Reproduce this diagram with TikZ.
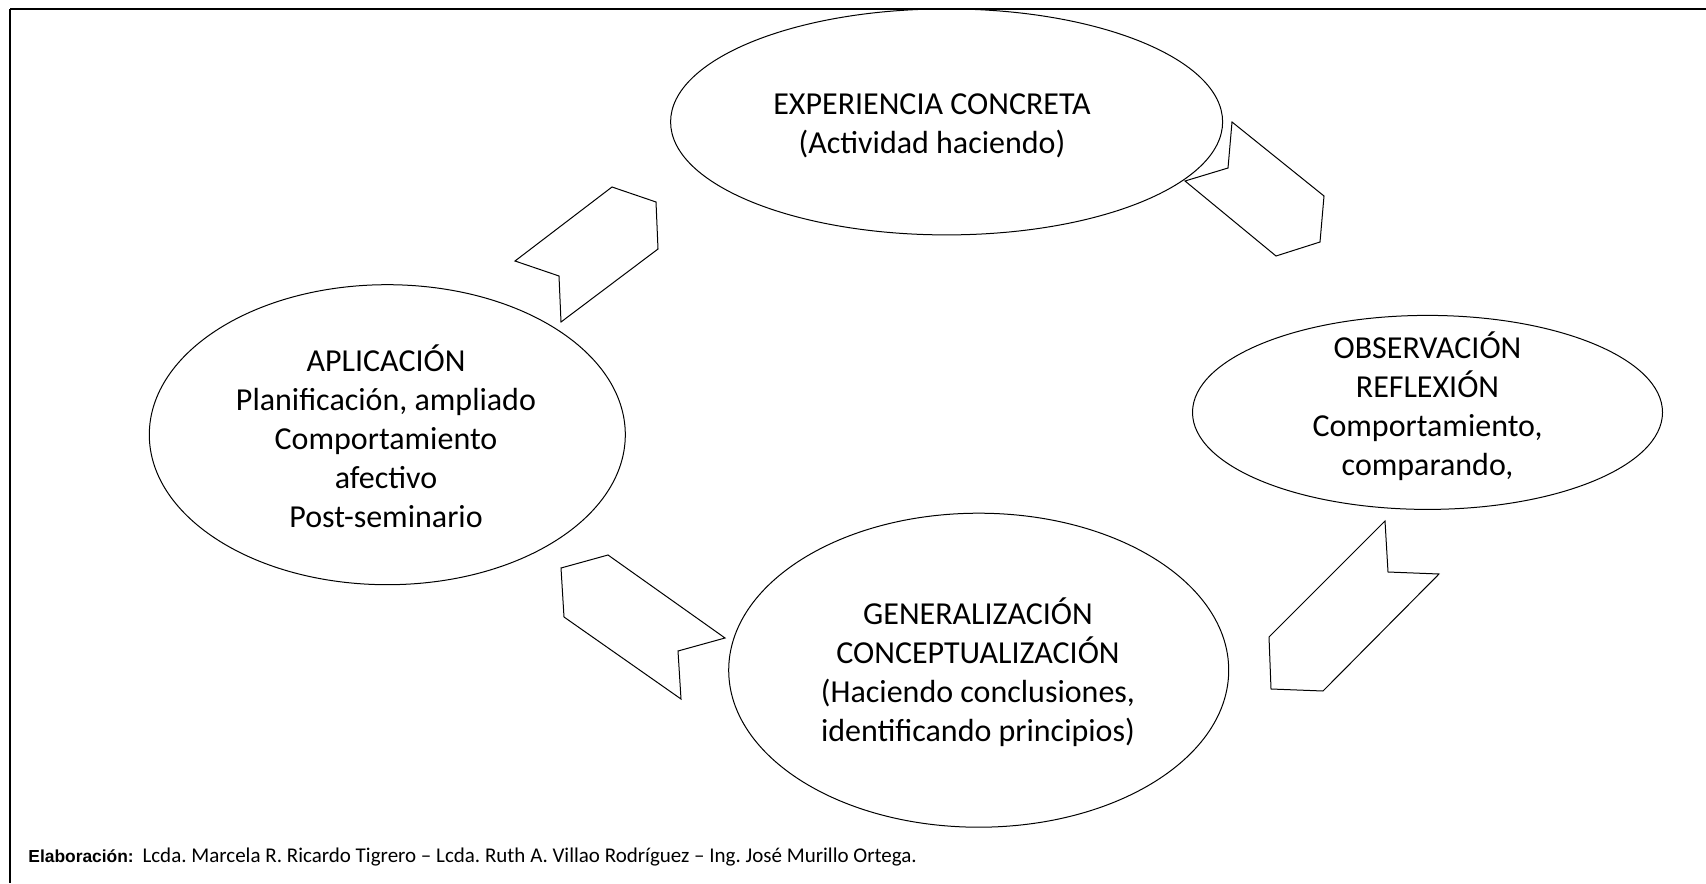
\documentclass[tikz,border=0pt]{standalone}
\usepackage{fontspec}
\setmainfont{Carlito}
\newfontfamily\arialfont{Liberation Sans}
\usetikzlibrary{shapes.geometric}
\tikzset{
  oval/.style={draw=black, line width=0.5pt, ellipse, inner sep=0pt, outer sep=0pt},
  ovaltext/.style={align=center, font=\fontsize{16}{19.5}\selectfont, inner sep=0pt},
  chev/.style={draw=black, fill=white, line width=0.5pt, line join=miter},
  frameline/.style={draw=black}
}
\frenchspacing
\begin{document}
\begin{tikzpicture}[x=0.5pt,y=-0.5pt]
\useasboundingbox (0,0) rectangle (1706,883);
% frame
\coordinate (tl) at (10,9);
\coordinate (tr) at (1706,9);
\coordinate (bl) at (10,883);
\draw[frameline, line width=1pt] (tl) -- (tr);
\draw[frameline, line width=0.7pt] (tl) -- (bl);
% ellipses
\node[oval, minimum width=276pt, minimum height=113pt] (exp) at (946.6,121.9) {};
\node[oval, minimum width=238pt, minimum height=150pt] (apl) at (387.3,434.7) {};
\node[oval, minimum width=235pt, minimum height=97pt] (obs) at (1427.5,412.4) {};
\node[oval, minimum width=250pt, minimum height=157pt] (gen) at (978.7,670.2) {};
% texts
\node[ovaltext] (expt) at (932,126) {EXPERIENCIA CONCRETA\\(Actividad haciendo)};
\node[ovaltext] (aplt) at (386,436) {APLICACIÓN\\Planificación, ampliado\\Comportamiento\\afectivo\\Post-seminario};
\node[ovaltext] (obst) at (1427.5,406) {OBSERVACIÓN\\REFLEXIÓN\\Comportamiento,\\comparando,};
\node[ovaltext] (gent) at (978,672) {GENERALIZACIÓN\\CONCEPTUALIZACIÓN\\(Haciendo conclusiones,\\identificando principios)};
% chevron arrows
\draw[chev] (1232,122) -- (1324,196) -- (1320,242) -- (1276,256) -- (1185,181) -- (1228,168) -- cycle;
\draw[chev] (1385,521) -- (1388,572) -- (1439,574) -- (1323,691) -- (1271,689) -- (1269,637) -- cycle;
\draw[chev] (608,555) -- (725,638) -- (678,651) -- (681,699) -- (564,617) -- (561,568) -- cycle;
\draw[chev] (612,187) -- (656,202) -- (658,249) -- (561,322) -- (559,276) -- (515,261) -- cycle;
% footer
\node[anchor=base west, inner sep=0pt, font=\fontsize{10.5}{12}\selectfont] (foot) at (28,862)
  {{\arialfont\bfseries\fontsize{8.7}{11}\selectfont Elaboración:}\hspace{2pt} Lcda. Marcela R. Ricardo Tigrero – Lcda. Ruth A. Villao Rodríguez – Ing. José Murillo Ortega.};
\end{tikzpicture}
\end{document}
